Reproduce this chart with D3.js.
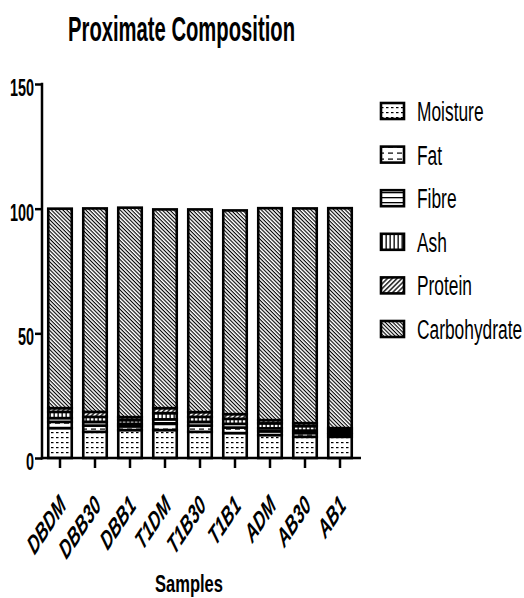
<!DOCTYPE html>
<html><head><meta charset="utf-8">
<script src="https://cdn.jsdelivr.net/npm/d3@7"></script>
<style>
body{margin:0;background:#fff;}
svg text{font-family:"Liberation Sans",Arial,sans-serif;fill:#000;}
</style></head>
<body><svg id="c" width="524" height="598"></svg>
<script>
const samples = ["DBDM","DBB30","DBB1","T1DM","T1B30","T1B1","ADM","AB30","AB1"];
const seriesNames = ["Moisture","Fat","Fibre","Ash","Protein","Carbohydrate"];
const moisture = [12.0,10.5,11.2,11.2,10.5,10.0,9.2,8.5,8.5];
const fat      = [2.5,2.5,1.5,2.5,2.5,2.2,1.5,1.5,1.0];
const fibre    = [1.5,1.5,1.0,1.8,1.5,1.5,1.2,1.0,0.7];
const ash      = [2.5,2.0,1.5,2.5,2.0,2.0,2.0,1.8,1.0];
const protein  = [1.5,2.0,1.2,2.0,1.9,1.9,1.3,1.2,0.8];
const carbohydrate = [80.0,81.6,84.0,79.7,81.3,81.7,85.0,86.1,88.2];
const yTicks = [0,50,100,150];

const seriesVals = [moisture,fat,fibre,ash,protein,carbohydrate];
const table = samples.map((s,i)=>{const o={sample:s};seriesNames.forEach((n,k)=>o[n]=seriesVals[k][i]);return o;});
const stacked = d3.stack().keys(seriesNames)(table);

const svg = d3.select("#c");
const defs = svg.append("defs");
function pat(id,w,h,draw,rot){
  const p = defs.append("pattern").attr("id",id).attr("patternUnits","userSpaceOnUse").attr("width",w).attr("height",h);
  if(rot) p.attr("patternTransform","rotate("+rot+")");
  p.append("rect").attr("width",w).attr("height",h).attr("fill","#fff");
  draw(p);
}
pat("p0",5,5,p=>p.append("rect").attr("x",1).attr("y",2).attr("width",2.5).attr("height",1.2).attr("fill","#000"));
pat("p1",9,6,p=>p.append("rect").attr("x",1).attr("y",2.5).attr("width",5).attr("height",1.2).attr("fill","#000"));
pat("p2",5,5,p=>p.append("rect").attr("x",0).attr("y",2).attr("width",5).attr("height",1.3).attr("fill","#000"));
pat("p3",4,4,p=>p.append("rect").attr("x",1.5).attr("y",0).attr("width",1.3).attr("height",4).attr("fill","#000"),0);
pat("p4",3.4,3.4,p=>p.append("rect").attr("x",1).attr("y",0).attr("width",1.3).attr("height",3.4).attr("fill","#000"),45);
pat("p5",2.7,2.7,p=>p.append("rect").attr("x",0.7).attr("y",0).attr("width",1.1).attr("height",2.7).attr("fill","#000"),-45);

const y = d3.scaleLinear().domain([0,150]).range([458,84]);
const x = d3.scaleBand().domain(samples).range([42.5,357.5]).paddingInner(0.257).paddingOuter(0.1285);

// bars
const g = svg.append("g");
stacked.forEach((layer,k)=>{
  g.selectAll(null).data(layer).enter().append("rect")
   .attr("x",d=>x(d.data.sample)+1.25)
   .attr("width",x.bandwidth()-2.5)
   .attr("y",d=>y(d[1]))
   .attr("height",d=>Math.max(0,y(d[0])-y(d[1])))
   .attr("fill","url(#p"+k+")")
   .attr("stroke","#000").attr("stroke-width",2.6);
});

// y axis
const yAxis = d3.axisLeft(y).tickValues(yTicks).tickSize(7).tickFormat("");
const ya = svg.append("g").attr("transform","translate(42,0)").call(yAxis);
ya.select(".domain").attr("stroke-width",2.5).attr("d","M0,82.8V459.5");
ya.selectAll(".tick line").attr("stroke-width",2.5);
svg.append("g").selectAll("text").data(yTicks).enter().append("text")
  .attr("transform",d=>"translate(34,"+(y(d)+12)+") scale(0.6,1)")
  .attr("text-anchor","end").attr("font-size",24).attr("font-weight","bold")
  .text(d=>d);

// x axis
const xAxis = d3.axisBottom(x).tickSize(10).tickFormat("");
const xa = svg.append("g").attr("transform","translate(0,458)").call(xAxis);
xa.select(".domain").attr("stroke-width",2.5).attr("d","M40.8,0H361");
xa.selectAll(".tick line").attr("stroke-width",2.5);
svg.append("g").selectAll("text").data(samples).enter().append("text")
  .attr("transform",d=>"translate("+(x(d)+x.bandwidth()/2+7)+",507) scale(0.67,1) rotate(-45) scale(0.85,1)")
  .attr("text-anchor","end")
  .attr("font-size",27).attr("font-weight","bold").attr("font-style","italic")
  .text(d=>d);

// titles
function fit(sel,w){const L=sel.node().getComputedTextLength();const cx=+sel.attr("data-cx"),by=+sel.attr("data-by");
  sel.attr("transform","translate("+cx+","+by+") scale("+(w/L)+",1)");}
const t1 = svg.append("text").attr("data-cx",181.5).attr("data-by",40.5).attr("text-anchor","middle")
  .attr("font-size",35).attr("font-weight","bold").text("Proximate Composition");
fit(t1,227);
const t2 = svg.append("text").attr("data-cx",189).attr("data-by",591.5).attr("text-anchor","middle")
  .attr("font-size",23).attr("font-weight","bold").text("Samples");
fit(t2,68);

// legend
const lg = svg.append("g");
const ly = d3.scalePoint().domain(seriesNames).range([111,329]);
seriesNames.forEach((n,k)=>{
  lg.append("rect").attr("x",381).attr("y",ly(n)-8).attr("width",23).attr("height",16)
    .attr("fill","url(#p"+k+")").attr("stroke","#000").attr("stroke-width",2.6);
  lg.append("text").attr("transform","translate(417,"+(ly(n)+10)+") scale(0.62,1)").attr("font-size",28).text(n);
});
</script></body></html>
